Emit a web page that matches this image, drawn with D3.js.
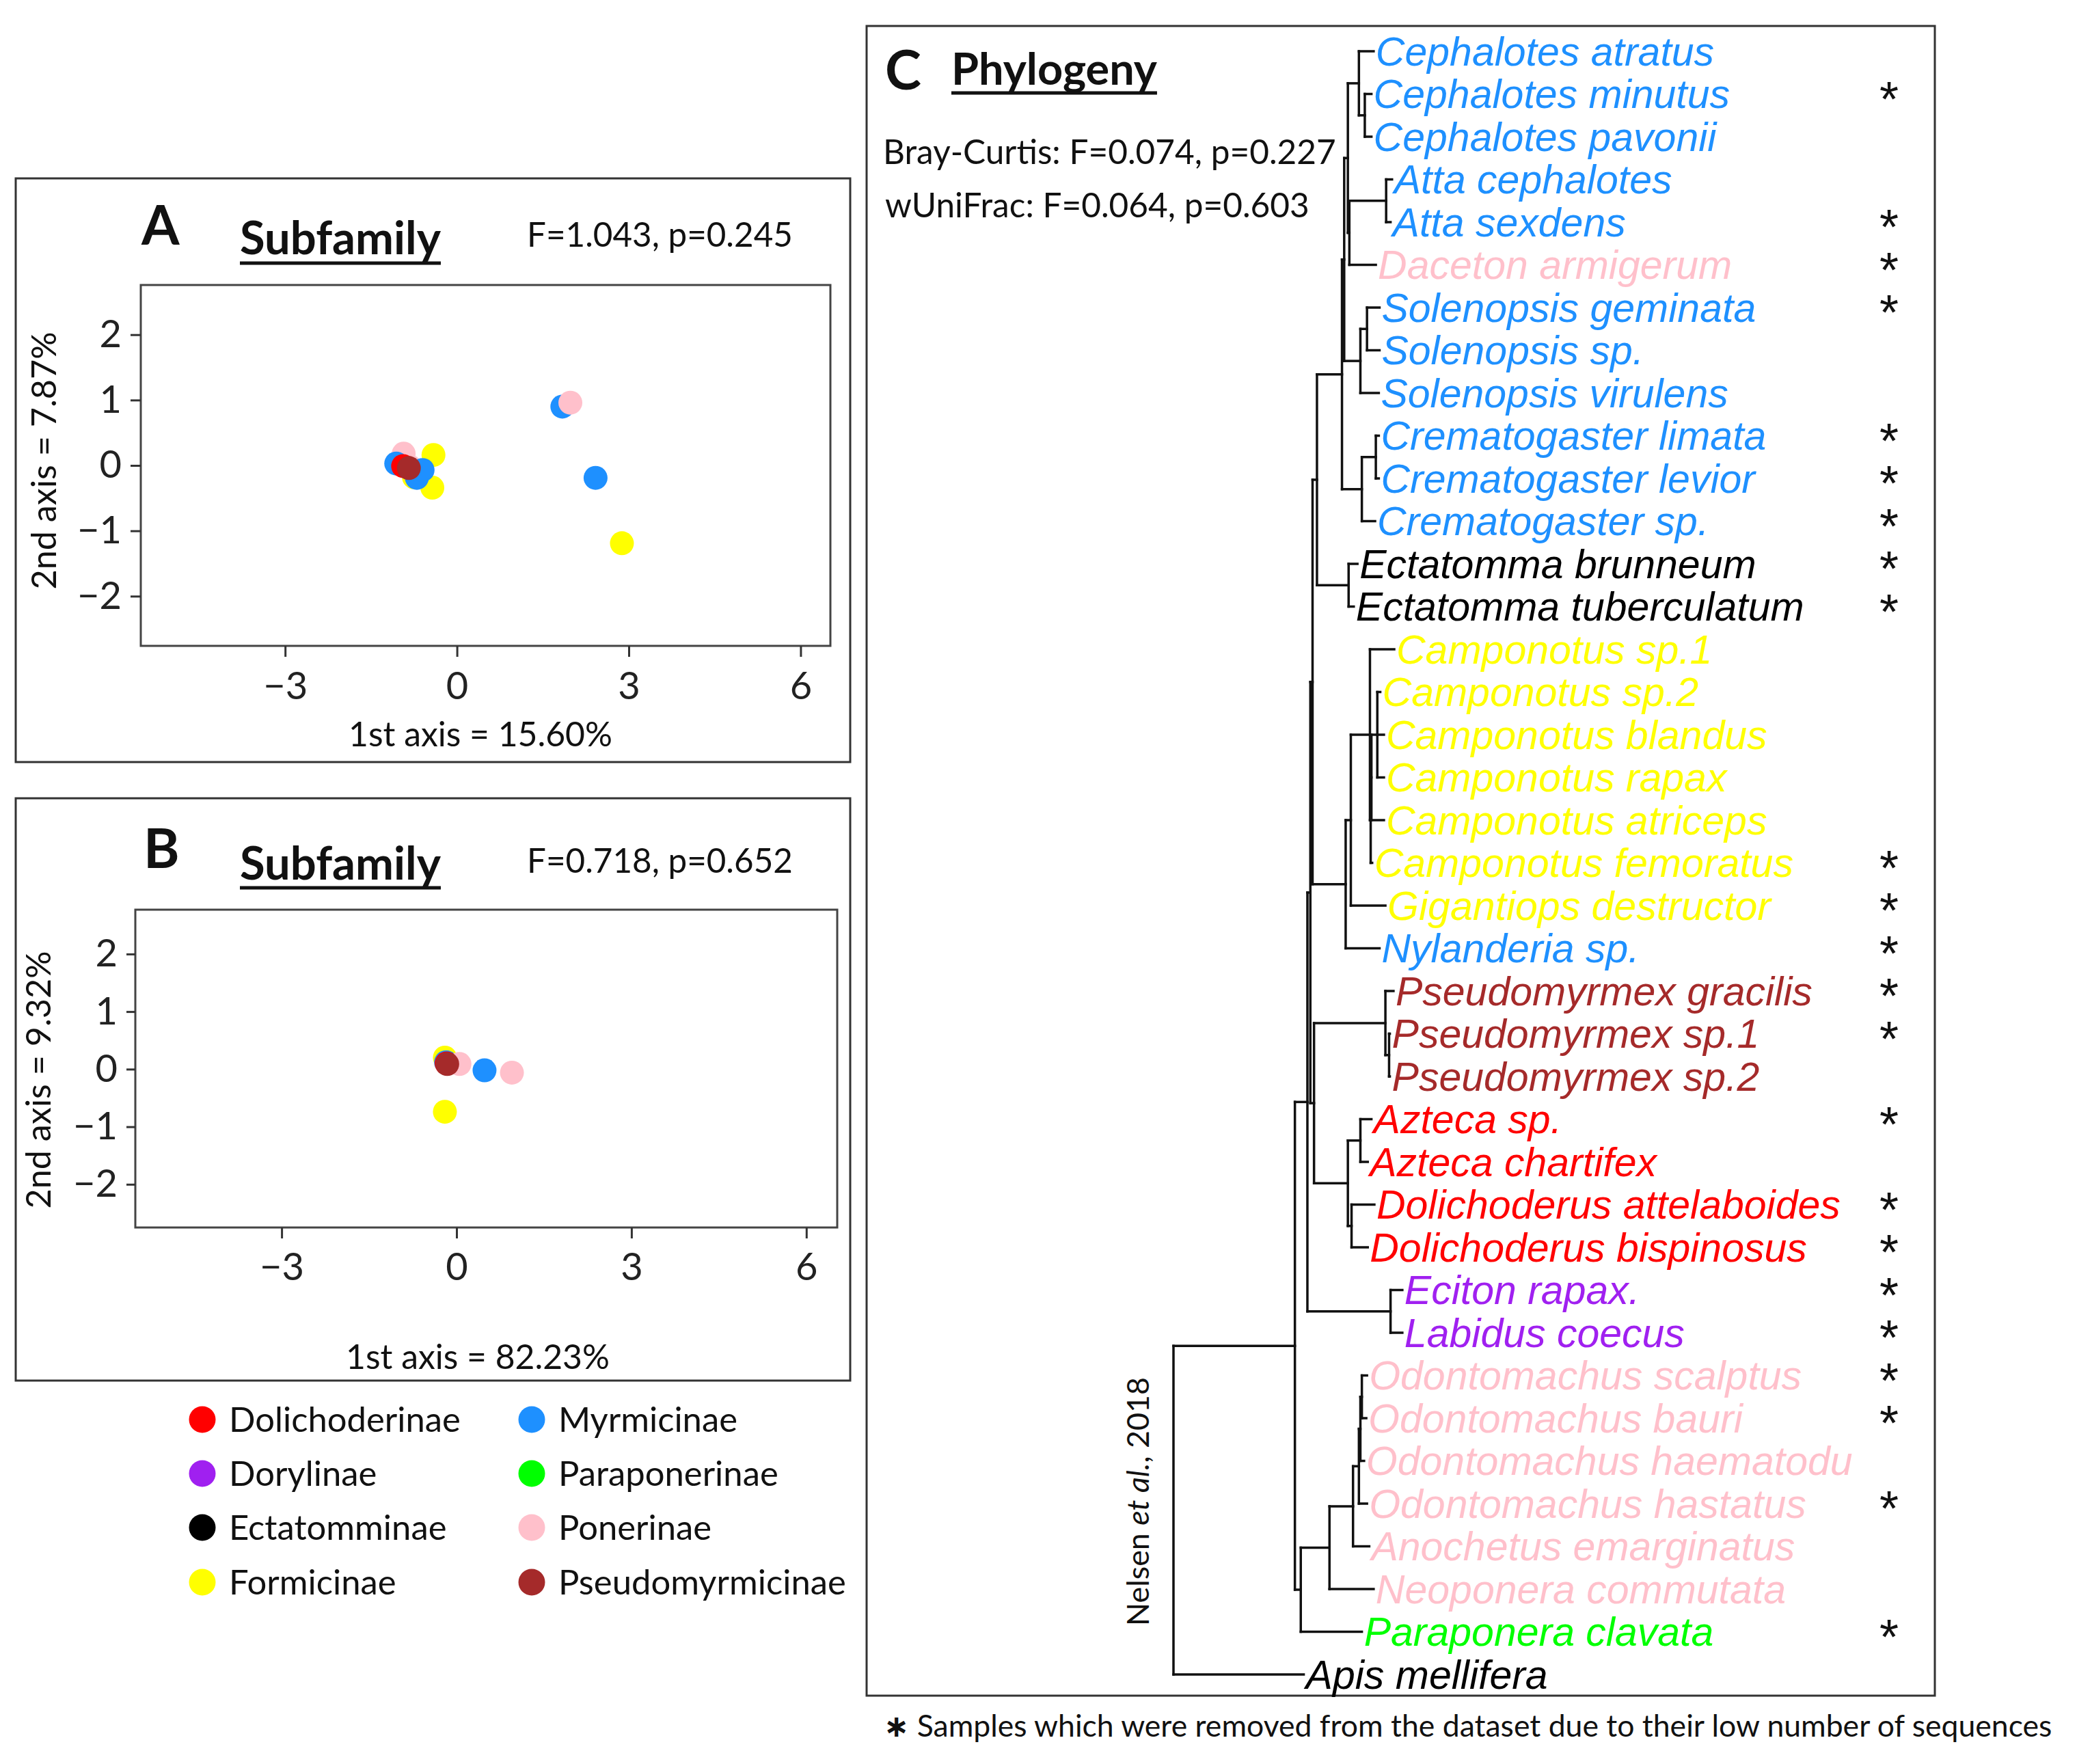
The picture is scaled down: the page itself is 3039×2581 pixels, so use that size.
<!DOCTYPE html>
<html>
<head>
<meta charset="utf-8">
<script src="https://cdn.jsdelivr.net/npm/d3@7"></script>
<style>
  body { margin: 0; background: #fff; }
</style>
</head>
<body>
<div id="chart"></div>
<script>
// ---------------- data ----------------
var subfamilies = ["Dolichoderinae", "Dorylinae", "Ectatomminae", "Formicinae",
                   "Myrmicinae", "Paraponerinae", "Ponerinae", "Pseudomyrmicinae"];
var subfamilyColors = ["#ff0000", "#a020f0", "#000000", "#ffff00",
                       "#1e90ff", "#00ff00", "#ffc0cb", "#a52a2a"];

var xTicks = [-3, 0, 3, 6];
var yTicks = [-2, -1, 0, 1, 2];

// PCoA, panel A (Bray-Curtis)
var pcoaA_x = [-0.75, -0.68, -0.41, -0.43, 2.88, -0.93, -0.82, -0.70, -0.60, -1.06, 1.84, 2.42, 1.98, -0.94, -0.84];
var pcoaA_y = [-0.18, -0.12, 0.16, -0.34, -1.19, 0.18, -0.02, -0.19, -0.07, 0.03, 0.90, -0.19, 0.96, -0.01, -0.04];
var pcoaA_group = ["Formicinae", "Formicinae", "Formicinae", "Formicinae", "Formicinae",
                   "Ponerinae", "Ponerinae", "Myrmicinae", "Myrmicinae", "Myrmicinae",
                   "Myrmicinae", "Myrmicinae", "Ponerinae", "Dolichoderinae", "Pseudomyrmicinae"];

// PCoA, panel B (weighted UniFrac)
var pcoaB_x = [-0.20, -0.18, -0.17, 0.05, 0.48, 0.95, -0.20, -0.16];
var pcoaB_y = [0.20, 0.12, 0.10, 0.09, -0.02, -0.06, -0.74, 0.09];
var pcoaB_group = ["Formicinae", "Myrmicinae", "Dolichoderinae", "Ponerinae",
                   "Myrmicinae", "Ponerinae", "Formicinae", "Pseudomyrmicinae"];

// Phylogeny (tips top to bottom)
var species = ["Cephalotes atratus", "Cephalotes minutus", "Cephalotes pavonii", "Atta cephalotes",
  "Atta sexdens", "Daceton armigerum", "Solenopsis geminata", "Solenopsis sp.", "Solenopsis virulens",
  "Crematogaster limata", "Crematogaster levior", "Crematogaster sp.", "Ectatomma brunneum",
  "Ectatomma tuberculatum", "Camponotus sp.1", "Camponotus sp.2", "Camponotus blandus",
  "Camponotus rapax", "Camponotus atriceps", "Camponotus femoratus", "Gigantiops destructor",
  "Nylanderia sp.", "Pseudomyrmex gracilis", "Pseudomyrmex sp.1", "Pseudomyrmex sp.2",
  "Azteca sp.", "Azteca chartifex", "Dolichoderus attelaboides", "Dolichoderus bispinosus",
  "Eciton rapax.", "Labidus coecus", "Odontomachus scalptus", "Odontomachus bauri",
  "Odontomachus haematodu", "Odontomachus hastatus", "Anochetus emarginatus",
  "Neoponera commutata", "Paraponera clavata", "Apis mellifera"];
var speciesGroup = ["Myrmicinae", "Myrmicinae", "Myrmicinae", "Myrmicinae", "Myrmicinae",
  "Ponerinae", "Myrmicinae", "Myrmicinae", "Myrmicinae", "Myrmicinae", "Myrmicinae", "Myrmicinae",
  "Ectatomminae", "Ectatomminae", "Formicinae", "Formicinae", "Formicinae", "Formicinae",
  "Formicinae", "Formicinae", "Formicinae", "Myrmicinae", "Pseudomyrmicinae", "Pseudomyrmicinae",
  "Pseudomyrmicinae", "Dolichoderinae", "Dolichoderinae", "Dolichoderinae", "Dolichoderinae",
  "Dorylinae", "Dorylinae", "Ponerinae", "Ponerinae", "Ponerinae", "Ponerinae", "Ponerinae",
  "Ponerinae", "Paraponerinae", "Apidae"];
var removed = [0, 1, 0, 0, 1, 1, 1, 0, 0, 1, 1, 1, 1, 1, 0, 0, 0, 0, 0, 1,
               1, 1, 1, 1, 0, 1, 0, 1, 1, 1, 1, 1, 1, 0, 1, 0, 0, 1, 0];
var tipDepth = [0.272, 0.269, 0.269, 0.297, 0.295, 0.275, 0.280, 0.280, 0.279, 0.279,
                0.279, 0.274, 0.250, 0.245, 0.300, 0.281, 0.286, 0.286, 0.286, 0.270,
                0.288, 0.280, 0.299, 0.294, 0.294, 0.269, 0.264, 0.273, 0.264, 0.311,
                0.311, 0.263, 0.262, 0.259, 0.263, 0.266, 0.272, 0.256, 0.177];

// topology: numbers are tip indices, ":" values are node depths from the root
var myrmicinae = "((((0,(1,2):0.260):0.252,((3,4):0.289,5):0.239):0.237,((6,7):0.263,8):0.254):0.232,((9,10):0.275,11):0.256):0.229";
var ectatomma = "(12,13):0.238";
var formicinae = "(((14,(((15,16,17):0.277,18):0.269,19):0.268):0.267,20):0.241,21):0.234";
var pseudomyrmex = "(22,(23,24):0.293):0.288";
var dolichoderinae = "((25,26):0.254,(27,28):0.242):0.237";
var dorylinae = "(29,30):0.295";
var poneroids = "((((((31,32):0.256,33):0.254,34):0.252,35):0.244,36):0.212,37):0.173";
var topology = "((((((" + myrmicinae + "," + ectatomma + "):0.195," + formicinae + "):0.189,(" +
  pseudomyrmex + "," + dolichoderinae + "):0.191):0.186," + dorylinae + "):0.182," +
  poneroids + "):0.165,38):0";

// ---------------- drawing ----------------
var W = 3039, H = 2581;
var sansFont = "Lato, 'Open sans', sans-serif";
var labelFont = "'Liberation Sans', Arimo, Arial, sans-serif";
var svg = d3.select("#chart").append("svg")
    .attr("width", W).attr("height", H)
    .attr("viewBox", "0 0 " + W + " " + H)
    .attr("font-family", sansFont);

var color = d3.scaleOrdinal()
    .domain(subfamilies.concat(["Apidae"]))
    .range(subfamilyColors.concat(["#000000"]));

// scale a text's font size so it spans the width
function fitWidth(sel, w) {
    var len = sel.node().getComputedTextLength();
    var fs = parseFloat(sel.attr("font-size"));
    sel.attr("font-size", fs * w / len);
    return fs * w / len;
}

function heading(x, y, uy, label) {
    var t = svg.append("text")
        .attr("x", x).attr("y", y)
        .attr("font-size", 66).attr("font-weight", "bold")
        .attr("fill", "#111")
        .text(label);
    fitWidth(t, label == "Phylogeny" ? 301 : 294);
    var len = t.node().getComputedTextLength();
    svg.append("line")
        .attr("x1", x).attr("x2", x + len)
        .attr("y1", uy).attr("y2", uy)
        .attr("stroke", "#111").attr("stroke-width", 5);
}

var statSize = null;

function drawPcoa(p, xs, ys, gs) {
    svg.append("rect")
        .attr("x", p.frame[0]).attr("y", p.frame[1])
        .attr("width", p.frame[2] - p.frame[0]).attr("height", p.frame[3] - p.frame[1])
        .attr("fill", "none").attr("stroke", "#333").attr("stroke-width", 3);

    svg.append("text")
        .attr("x", p.letter[0]).attr("y", p.letter[1])
        .attr("font-size", 80).attr("font-weight", "bold").attr("fill", "#111")
        .text(p.name);
    heading(p.head[0], p.head[1], p.head[2], "Subfamily");

    var st = svg.append("text")
        .attr("x", p.stat[0]).attr("y", p.stat[1])
        .attr("font-size", 52).attr("fill", "#111")
        .text(p.statText);
    if (statSize == null) statSize = fitWidth(st, 389);
    else st.attr("font-size", statSize);

    var x = d3.scaleLinear().domain(p.xdom).range(p.xr);
    var y = d3.scaleLinear().domain(p.ydom).range(p.yr);

    svg.append("rect")
        .attr("x", p.xr[0]).attr("y", p.yr[1])
        .attr("width", p.xr[1] - p.xr[0]).attr("height", p.yr[0] - p.yr[1])
        .attr("fill", "none").attr("stroke", "#444").attr("stroke-width", 3);

    var gy = svg.append("g")
        .attr("transform", "translate(" + p.xr[0] + ",0)")
        .call(d3.axisLeft(y).tickValues(yTicks).tickFormat(d3.format("d"))
            .tickSize(p.ytick).tickPadding(13));
    var gx = svg.append("g")
        .attr("transform", "translate(0," + p.yr[0] + ")")
        .call(d3.axisBottom(x).tickValues(xTicks).tickFormat(d3.format("d"))
            .tickSize(16).tickPadding(p.xpad));
    [gx, gy].forEach(function(g) {
        g.attr("font-family", sansFont);
        g.select(".domain").remove();
        g.selectAll("line").attr("stroke", "#333").attr("stroke-width", 3);
        g.selectAll("text").attr("font-size", 56).attr("fill", "#222");
    });

    var xt = svg.append("text")
        .attr("x", p.xtitle[0]).attr("y", p.xtitle[1])
        .attr("text-anchor", "middle")
        .attr("font-size", 52).attr("fill", "#111")
        .text(p.xlab);
    fitWidth(xt, 386);
    var yt = svg.append("text")
        .attr("transform", "translate(" + p.ytitle[0] + "," + p.ytitle[1] + ")rotate(-90)")
        .attr("text-anchor", "middle")
        .attr("font-size", 52).attr("fill", "#111")
        .text(p.ylab);
    fitWidth(yt, 377);

    svg.append("g").selectAll("circle")
        .data(xs.map(function(v, i) { return {x: v, y: ys[i], g: gs[i]}; }))
        .enter().append("circle")
        .attr("cx", function(d) { return x(d.x); })
        .attr("cy", function(d) { return y(d.y); })
        .attr("r", 17.5)
        .attr("fill", function(d) { return color(d.g); });
}

drawPcoa({
    name: "A", frame: [23, 261, 1244, 1115],
    letter: [207, 358], head: [351, 372, 385], stat: [771, 361], statText: "F=1.043, p=0.245",
    xdom: [-5.52, 6.52], xr: [206, 1215], ydom: [-2.76, 2.76], yr: [945, 417],
    ytick: 15, xpad: 22,
    xtitle: [703, 1092], xlab: "1st axis = 15.60%",
    ytitle: [82, 674], ylab: "2nd axis = 7.87%"
}, pcoaA_x, pcoaA_y, pcoaA_group);

drawPcoa({
    name: "B", frame: [23, 1168, 1244, 2020],
    letter: [210, 1270], head: [351, 1287, 1299], stat: [771, 1277], statText: "F=0.718, p=0.652",
    xdom: [-5.51, 6.53], xr: [198, 1225], ydom: [-2.75, 2.77], yr: [1796, 1331],
    ytick: 13, xpad: 21,
    xtitle: [699, 2003], xlab: "1st axis = 82.23%",
    ytitle: [74, 1580], ylab: "2nd axis = 9.32%"
}, pcoaB_x, pcoaB_y, pcoaB_group);

// legend
var legend = svg.append("g").selectAll("g")
    .data(subfamilies)
    .enter().append("g")
    .attr("transform", function(d, i) {
        return "translate(" + (i < 4 ? 296 : 778) + "," + [2077, 2156, 2235, 2315][i % 4] + ")";
    });
legend.append("circle")
    .attr("r", 19.5)
    .attr("fill", function(d) { return color(d); });
var legText = legend.append("text")
    .attr("x", 39).attr("dy", "0.35em")
    .attr("font-size", 48).attr("fill", "#111")
    .text(function(d) { return d; });
var legSize = fitWidth(d3.select(legText.nodes()[0]), 339);
legText.attr("font-size", legSize);

// ---------------- panel C: phylogeny ----------------
svg.append("rect")
    .attr("x", 1268).attr("y", 38).attr("width", 2831 - 1268).attr("height", 2481 - 38)
    .attr("fill", "none").attr("stroke", "#333").attr("stroke-width", 3);
svg.append("text")
    .attr("x", 1295).attr("y", 131)
    .attr("font-size", 80).attr("font-weight", "bold").attr("fill", "#111")
    .text("C");
heading(1392, 124, 136, "Phylogeny");
var bray = svg.append("text")
    .attr("x", 1292).attr("y", 240)
    .attr("font-size", 52).attr("fill", "#111")
    .text("Bray-Curtis: F=0.074, p=0.227");
var braySize = fitWidth(bray, 663);
svg.append("text")
    .attr("x", 1295).attr("y", 318)
    .attr("font-size", braySize).attr("fill", "#111")
    .text("wUniFrac: F=0.064, p=0.603");

function parseTree(s) {
    var i = 0;
    function node() {
        if (s[i] === "(") {
            i++;
            var kids = [node()];
            while (s[i] === ",") { i++; kids.push(node()); }
            i++;
            var n = {children: kids};
            if (s[i] === ":") {
                i++;
                var m = s.slice(i).match(/^[0-9.]+/)[0];
                i += m.length;
                n.depth = +m;
            }
            return n;
        }
        var t = s.slice(i).match(/^\d+/)[0];
        i += t.length;
        return {tip: +t};
    }
    return node();
}

var xDepth = d3.scaleLinear().domain([0, 0.3]).range([1717, 2040]);
var yTip = d3.scalePoint().domain(d3.range(species.length)).range([75, 2450]);

var root = d3.hierarchy(parseTree(topology));
root.eachAfter(function(n) {
    if (n.children) {
        n.px = xDepth(n.data.depth);
        n.py = (n.children[0].py + n.children[n.children.length - 1].py) / 2;
    } else {
        n.px = xDepth(tipDepth[n.data.tip]);
        n.py = yTip(n.data.tip);
    }
});

var tree = svg.append("g")
    .attr("stroke", "#111").attr("stroke-width", 3.5).attr("fill", "none")
    .attr("stroke-linecap", "square");
root.descendants().forEach(function(n) {
    if (n.children) {
        tree.append("line")
            .attr("x1", n.px).attr("x2", n.px)
            .attr("y1", n.children[0].py)
            .attr("y2", n.children[n.children.length - 1].py);
    }
    if (n.parent) {
        tree.append("line")
            .attr("x1", n.parent.px).attr("x2", n.px)
            .attr("y1", n.py).attr("y2", n.py);
    }
});

var tips = root.leaves();
svg.append("g").selectAll("text")
    .data(tips)
    .enter().append("text")
    .attr("x", function(d) { return d.px + 3; })
    .attr("y", function(d) { return d.py; })
    .attr("dy", "0.35em")
    .attr("font-family", labelFont)
    .attr("font-style", "italic")
    .attr("font-size", 59)
    .attr("fill", function(d) { return color(speciesGroup[d.data.tip]); })
    .text(function(d) { return species[d.data.tip]; });

svg.append("g").selectAll("text")
    .data(tips.filter(function(d) { return removed[d.data.tip]; }))
    .enter().append("text")
    .attr("x", 2764)
    .attr("y", function(d) { return d.py; })
    .attr("dy", "0.45em")
    .attr("text-anchor", "middle")
    .attr("font-family", labelFont)
    .attr("font-size", 72)
    .attr("fill", "#111")
    .text("*");

// reference of the tree
var nel = svg.append("text")
    .attr("transform", "translate(1681,2197)rotate(-90)")
    .attr("text-anchor", "middle")
    .attr("font-size", 44).attr("fill", "#111");
nel.append("tspan").text("Nelsen ");
nel.append("tspan").attr("font-style", "italic").text("et al.");
nel.append("tspan").text(", 2018");
fitWidth(nel, 364);

// footnote
var foot = svg.append("text")
    .attr("x", 1293).attr("y", 2541)
    .attr("font-size", 43).attr("fill", "#111");
foot.append("tspan").attr("font-family", "'DejaVu Sans', sans-serif").attr("font-weight", "bold").text("∗");
foot.append("tspan").text(" Samples which were removed from the dataset due to their low number of sequences");
fitWidth(foot, 1710);
</script>
</body>
</html>
